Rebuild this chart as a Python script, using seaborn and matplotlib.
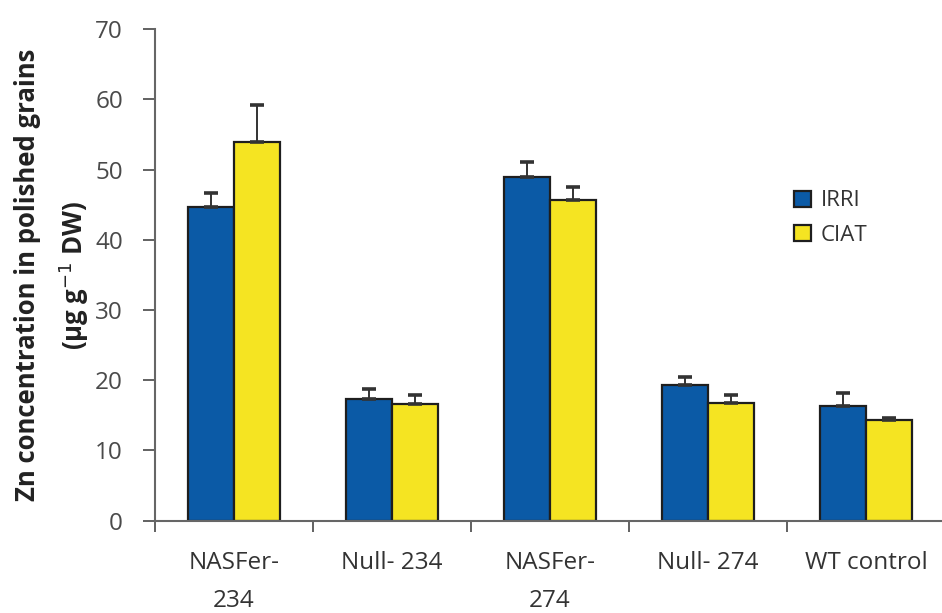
import matplotlib
matplotlib.use("Agg")
import matplotlib.pyplot as plt
import seaborn as sns
import pandas as pd
import numpy as np

# Zn concentration in polished grains, mean and upper SE per line and site
lines = ["NASFer-\n234", "Null- 234", "NASFer-\n274", "Null- 274", "WT control"]
sites = ["IRRI", "CIAT"]
irri_mean = [44.7, 17.4, 49.0, 19.3, 16.3]
ciat_mean = [53.9, 16.6, 45.7, 16.8, 14.3]
irri_se = [2.0, 1.4, 2.1, 1.2, 1.9]
ciat_se = [5.3, 1.3, 1.8, 1.1, 0.3]
yticks = [0, 10, 20, 30, 40, 50, 60, 70]

colors = {"IRRI": "#0B5AA6", "CIAT": "#F5E422"}

sns.set_style("white")
plt.rcParams["font.family"] = ["Open Sans", "DejaVu Sans"]

df = pd.DataFrame({
    "line": lines * 2,
    "site": ["IRRI"] * len(lines) + ["CIAT"] * len(lines),
    "zn": irri_mean + ciat_mean,
})

fig = plt.figure(figsize=(9.42, 6.13), dpi=100)
ax = fig.add_axes([0.1645, 0.1506, 0.8386, 0.8016])

sns.barplot(data=df, x="line", y="zn", hue="site", order=lines, hue_order=sites,
            palette=colors, saturation=1, width=0.58, gap=0, errorbar=None,
            edgecolor="#1e1e1e", linewidth=1.6, ax=ax)

# upper-only error bars on each bar
for cont, se in zip(ax.containers, [irri_se, ciat_se]):
    xs = [p.get_x() + p.get_width() / 2 for p in cont.patches]
    ys = list(cont.datavalues)
    ax.errorbar(xs, ys, yerr=[np.zeros(len(se)), se], fmt="none",
                ecolor="#333333", elinewidth=1.4, capsize=5, capthick=2.6, zorder=1)

ax.set_ylim(0, 70)
ax.set_xlim(-0.5, len(lines) - 0.5)
ax.set_yticks(yticks)
ax.set_yticklabels([str(t) for t in yticks], fontsize=17.5, color="#4a4a4a")

# category boundaries carry tick marks; names sit between them
ax.set_xticks(np.arange(-0.5, len(lines) - 0.5, 1.0))
ax.set_xticklabels([])
ax.set_xticks(np.arange(len(lines)), minor=True)
ax.set_xticklabels(lines, minor=True, fontsize=17.5, color="#333333", linespacing=1.75)
ax.tick_params(axis="x", which="minor", length=0, pad=22)
ax.tick_params(axis="x", which="major", direction="out", length=8, width=1.3,
               color="#555555", bottom=True)
ax.tick_params(axis="y", direction="out", length=9, width=1.3, color="#555555",
               left=True, pad=14)
ax.set_xlabel("")

for side in ["top", "right"]:
    ax.spines[side].set_visible(False)
for side in ["left", "bottom"]:
    ax.spines[side].set_color("#666666")
    ax.spines[side].set_linewidth(1.5)

ax.set_ylabel("Zn concentration in polished grains\n(\u03bcg g$^{-1}$ DW)",
              fontsize=18.5, fontweight="bold", color="#222222", labelpad=3,
              linespacing=1.6)

leg = ax.legend(title=None, frameon=False, loc="upper left",
                bbox_to_anchor=(0.822, 0.722), bbox_transform=fig.transFigure,
                fontsize=16, handlelength=0.75, handleheight=0.75,
                handletextpad=0.45, labelspacing=0.6)
for t in leg.get_texts():
    t.set_color("#333333")

fig.savefig("out.png", dpi=100)
